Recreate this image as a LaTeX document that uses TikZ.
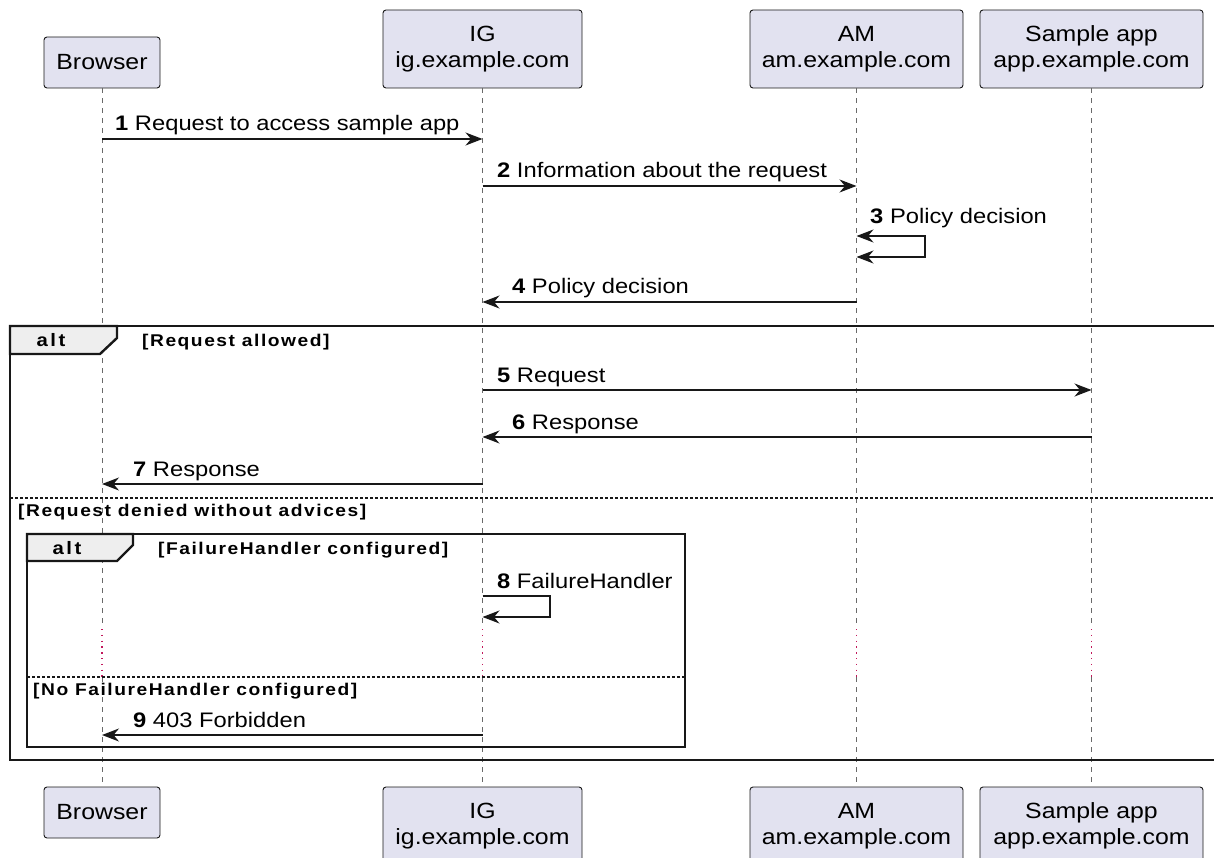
\documentclass[tikz,border=0pt]{standalone}
\usepackage{fontspec}
\setmainfont{Liberation Sans}[FakeStretch=1.13]
\newfontfamily\guardfont{Liberation Sans Bold}[FakeStretch=1.13,LetterSpace=9]
\newfontfamily\altfont{Liberation Sans Bold}[FakeStretch=1.13,LetterSpace=14]
\usetikzlibrary{arrows.meta}
\definecolor{partfill}{HTML}{E2E2F0}
\definecolor{ink}{HTML}{181818}
\definecolor{tabfill}{HTML}{EEEEEE}
\definecolor{delaycol}{HTML}{C2185B}
\tikzset{
  part/.style={draw=ink, line width=0.9pt, fill=partfill, rounded corners=3pt, align=center,
    font=\fontsize{22}{26}\selectfont, inner sep=0pt},
  lifeline/.style={draw=ink!65, line width=0.9pt, dash pattern=on 5pt off 5pt},
  delayline/.style={draw=delaycol, line width=1.1pt, dash pattern=on 1.3pt off 4.5pt},
  msg/.style={draw=ink, line width=1.5pt, -{Stealth[length=17pt,width=13pt,inset=5.5pt]}},
  selfmsg/.style={draw=ink, line width=1.5pt},
  lbl/.style={anchor=base west, inner sep=0pt, font=\fontsize{21}{25}\selectfont},
  frm/.style={draw=ink, line width=2.4pt},
  sep/.style={draw=ink, line width=1.1pt, dash pattern=on 3pt off 2pt},
  tab/.style={draw=ink, line width=2.4pt, fill=tabfill},
  guard/.style={anchor=base west, inner sep=0pt, font=\guardfont\fontsize{17}{19}\selectfont},
  altlbl/.style={inner sep=0pt, font=\altfont\fontsize{18}{20}\selectfont}
}
\begin{document}
\begin{tikzpicture}[x=1pt,y=-1pt]
\useasboundingbox (0,0) rectangle (1214,858);
% participants
\node[part, minimum width=116, minimum height=51] (bT) at (102,62.5) {Browser};
\node[part, minimum width=199, minimum height=78] (igT) at (482.5,49) {IG\\ig.example.com};
\node[part, minimum width=213, minimum height=78] (amT) at (856.5,49) {AM\\am.example.com};
\node[part, minimum width=223, minimum height=78] (apT) at (1091.5,49) {Sample app\\app.example.com};
\node[part, minimum width=116, minimum height=51] (bB) at (102,812.5) {Browser};
\node[part, minimum width=199, minimum height=78] (igB) at (482.5,826) {IG\\ig.example.com};
\node[part, minimum width=213, minimum height=78] (amB) at (856.5,826) {AM\\am.example.com};
\node[part, minimum width=223, minimum height=78] (apB) at (1091.5,826) {Sample app\\app.example.com};
% lifelines
\foreach \t/\b in {bT/bB, igT/igB, amT/amB, apT/apB}{
  \draw[lifeline] (\t.south) -- (\t.south |- 0,628);
  \draw[delayline] (\t.south |- 0,629) -- (\t.south |- 0,677);
  \draw[lifeline] (\t.south |- 0,677) -- (\b.north);
}
% outer alt frame
\draw[frm] (10,326) rectangle (1224,760);
\draw[tab] (10,326) -- (117,326) -- (117,338) -- (100,354) -- (10,354) -- cycle;
\node[altlbl] (alt1) at (51,340) {alt};
\node[guard] (g1) at (142,346) {[Request allowed]};
\draw[sep] (10,498) -- (1224,498);
\node[guard] (g2) at (18,516) {[Request denied without advices]};
% inner alt frame
\draw[frm] (27,534) rectangle (685,747);
\draw[tab] (27,534) -- (133,534) -- (133,545) -- (117,561) -- (27,561) -- cycle;
\node[altlbl] (alt2) at (67,548) {alt};
\node[guard] (g3) at (158,554) {[FailureHandler configured]};
\draw[sep] (27,677) -- (685,677);
\node[guard] (g4) at (33,695) {[No FailureHandler configured]};
% messages
\draw[msg] (bT.south |- 0,139) -- (igT.south |- 0,139);
\node[lbl] (l1) at (115,131) {\textbf{1} Request to access sample app};
\draw[msg] (igT.south |- 0,186) -- (amT.south |- 0,186);
\node[lbl] (l2) at (497,178) {\textbf{2} Information about the request};
\draw[selfmsg, {Stealth[length=17pt,width=13pt,inset=5.5pt]}-{Stealth[length=17pt,width=13pt,inset=5.5pt]}]
  (amT.south |- 0,236) -- (925,236) -- (925,257) -- (amT.south |- 0,257);
\node[lbl] (l3) at (870,224) {\textbf{3} Policy decision};
\draw[msg] (amT.south |- 0,302) -- (igT.south |- 0,302);
\node[lbl] (l4) at (512,294) {\textbf{4} Policy decision};
\draw[msg] (igT.south |- 0,390) -- (apT.south |- 0,390);
\node[lbl] (l5) at (497,382) {\textbf{5} Request};
\draw[msg] (apT.south |- 0,437) -- (igT.south |- 0,437);
\node[lbl] (l6) at (512,429) {\textbf{6} Response};
\draw[msg] (igT.south |- 0,484) -- (bT.south |- 0,484);
\node[lbl] (l7) at (133,476) {\textbf{7} Response};
\draw[selfmsg, -{Stealth[length=17pt,width=13pt,inset=5.5pt]}]
  (igT.south |- 0,596) -- (550,596) -- (550,617) -- (igT.south |- 0,617);
\node[lbl] (l8) at (497,588) {\textbf{8} FailureHandler};
\draw[msg] (igT.south |- 0,735) -- (bT.south |- 0,735);
\node[lbl] (l9) at (133,727) {\textbf{9} 403 Forbidden};
\end{tikzpicture}
\end{document}
